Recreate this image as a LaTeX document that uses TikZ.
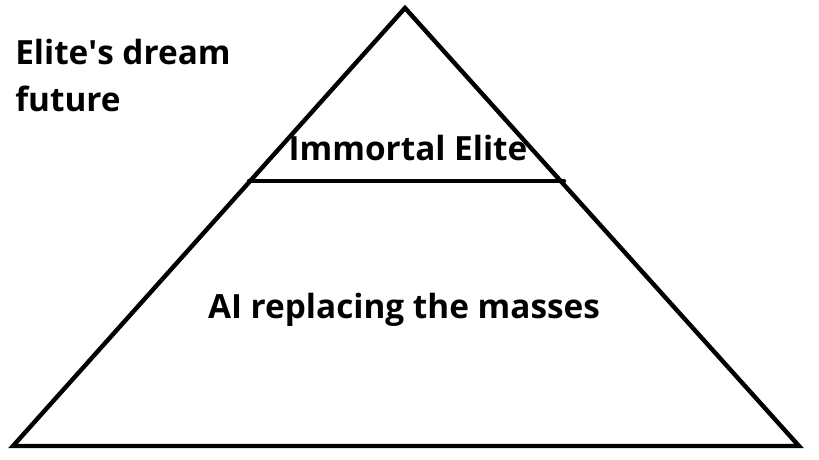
\documentclass[tikz,border=0pt]{standalone}
\usepackage{fontspec}
\setmainfont{Open Sans}
\tikzset{
  edge/.style={line width=3.3pt, line cap=round},
  label/.style={inner sep=0, font=\bfseries\fontsize{25}{30}\selectfont}
}
\begin{document}
\begin{tikzpicture}[x=0.75pt, y=-0.75pt]
      \useasboundingbox (0,0) rectangle (819,460);
      % PYRAMID
      % -- corners
      \coordinate (apex) at (405, 8);
      \coordinate (baseL) at (13, 446);
      \coordinate (baseR) at (799, 446);
      \coordinate (cutL) at (249, 181);
      \coordinate (cutR) at (564, 181);
      % -- outline
      \draw[edge, line cap=butt] (baseL) -- (apex) -- (baseR) -- cycle;
      % -- divider
      \draw[edge] (cutL) -- (cutR);
      % LABELS
      \node[label, anchor=base west] (title1) at (15, 65) {Elite\textquotesingle s dream};
      \node[label, anchor=base west] (title2) at (15, 112) {future};
      \node[label, anchor=base] (top) at (408, 161) {Immortal Elite};
      \node[label, anchor=base] (bottom) at (404, 319) {AI replacing the masses};
\end{tikzpicture}
\end{document}
